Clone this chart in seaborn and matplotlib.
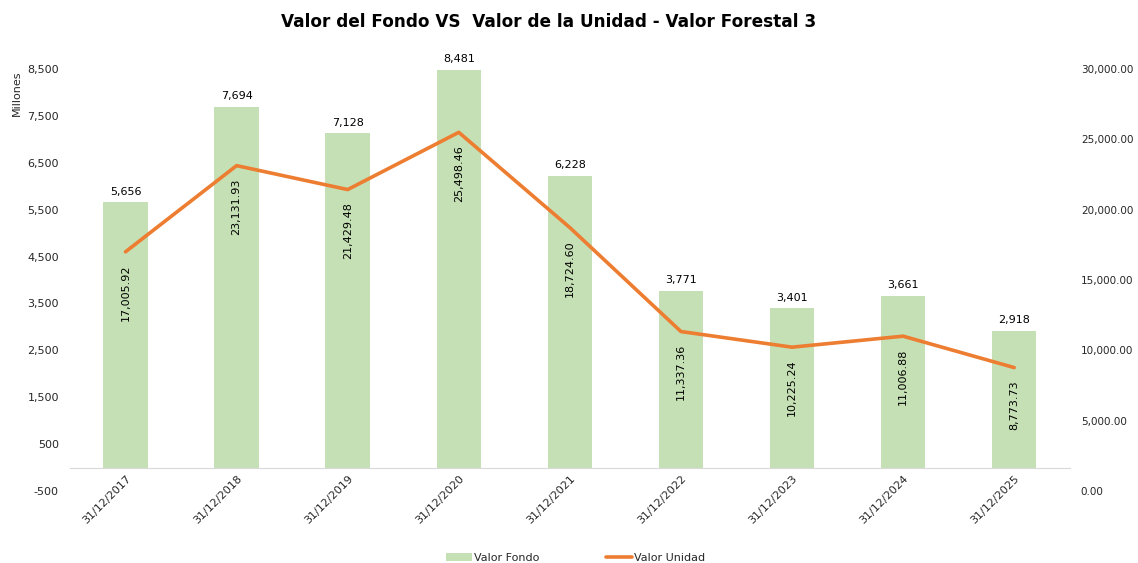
import numpy as np
import pandas as pd
import matplotlib.pyplot as plt
import seaborn as sns
from matplotlib.patches import Patch
from matplotlib.lines import Line2D

# ================= Data ================= #
fechas = ["31/12/2017", "31/12/2018", "31/12/2019", "31/12/2020", "31/12/2021",
          "31/12/2022", "31/12/2023", "31/12/2024", "31/12/2025"]
valor_fondo = [5656, 7694, 7128, 8481, 6228, 3771, 3401, 3661, 2918]
valor_unidad = [17005.92, 23131.93, 21429.48, 25498.46, 18724.60,
                11337.36, 10225.24, 11006.88, 8773.73]

colorBar = "#C5E0B4"
colorLine = "#ED7D31"
txtColor = "#262626"

df = pd.DataFrame({"fecha": fechas, "fondo": valor_fondo, "unidad": valor_unidad})
df["pos"] = np.arange(len(df))

# ================= Plot ================= #
sns.set_style("white")
plt.rcParams["font.family"] = ["DejaVu Sans"]
plt.rcParams["font.size"] = 8

fig = plt.figure(figsize=(11.38, 5.63), dpi=100)
ax = fig.add_axes([0.0615, 0.1279, 0.8785, 0.7495])

sns.barplot(data=df, x="fecha", y="fondo", color=colorBar, width=0.4,
            saturation=1, linewidth=0, edgecolor="none", ax=ax, zorder=1)
ax.set_xlim(-0.5, len(df) - 0.5)
ax.set_ylim(-500, 8500)
ax.set_yticks(np.arange(-500, 8501, 1000))
ax.set_yticklabels(["{:,.0f}".format(v) for v in np.arange(-500, 8501, 1000)],
                   color=txtColor, fontsize=8)
ax.set_xlabel("")
ax.set_ylabel("")
for s in ["top", "left", "right"]:
    ax.spines[s].set_visible(False)
ax.spines["bottom"].set_position(("data", 0))
ax.spines["bottom"].set_color("#D9D9D9")
ax.tick_params(axis="y", length=0, pad=8)
ax.tick_params(axis="x", which="major", length=0, pad=4)
ax.set_xticks(np.arange(-0.5, len(df), 1), minor=True)
ax.tick_params(axis="x", which="minor", length=5, color="#D9D9D9", direction="out")
ax.set_xticklabels(fechas, rotation=45, ha="right", rotation_mode="anchor",
                   color=txtColor, fontsize=8)
ax.bar_label(ax.containers[0], fmt="{:,.0f}", padding=4, fontsize=8, color="black")

# Secondary axis: unit value
ax2 = ax.twinx()
sns.lineplot(data=df, x="pos", y="unidad", color=colorLine, linewidth=2.6, ax=ax2)
ax2.set_ylim(0, 30000)
ax2.set_yticks(np.arange(0, 30001, 5000))
ax2.set_yticklabels(["{:,.2f}".format(v) for v in np.arange(0, 30001, 5000)],
                    color=txtColor, fontsize=7.5)
ax2.set_ylabel("")
ax2.tick_params(axis="y", length=0, pad=8)
for s in ["top", "left", "right", "bottom"]:
    ax2.spines[s].set_visible(False)
for i, v in enumerate(valor_unidad):
    ax2.annotate("{:,.2f}".format(v), (df["pos"][i], v), xytext=(0, -9),
                 textcoords="offset points", rotation=90, ha="center", va="top",
                 fontsize=8, color="black")

fig.text(0.015, 0.835, "Millones", rotation=90, ha="center", va="center",
         fontsize=8, color=txtColor)
fig.text(0.482, 0.961, "Valor del Fondo VS  Valor de la Unidad - Valor Forestal 3",
         ha="center", va="center", fontsize=12.2, fontweight="bold", color="black")

handles = [Patch(facecolor=colorBar, edgecolor="none"),
           Line2D([0], [0], color=colorLine, linewidth=2.6)]
fig.legend(handles, ["Valor Fondo", "Valor Unidad"], loc="lower center",
           bbox_to_anchor=(0.506, -0.017), ncol=2, frameon=False, fontsize=8,
           handlelength=2.3, handleheight=0.7, columnspacing=6, handletextpad=0.2)

fig.savefig("out.png", dpi=100)
